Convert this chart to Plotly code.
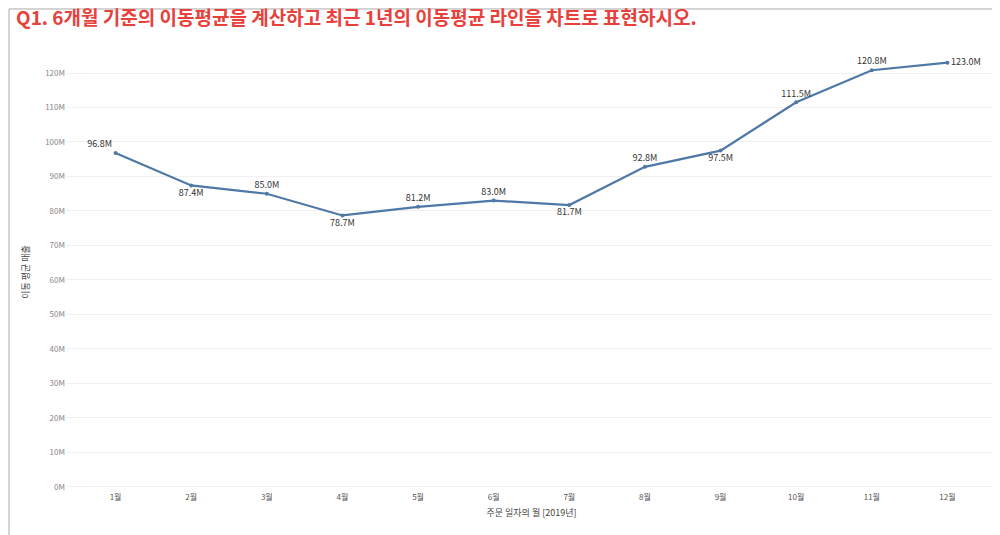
import plotly.graph_objects as go

months = ["1월","2월","3월","4월","5월","6월","7월","8월","9월","10월","11월","12월"]
values = [96.8, 87.4, 85.0, 78.7, 81.2, 83.0, 81.7, 92.8, 97.5, 111.5, 120.8, 123.0]
positions = ["top left","bottom center","top center","bottom center","top center","top center",
             "bottom center","top center","bottom center","top center","top center","middle right"]

font = "Noto Sans CJK KR"
fig = go.Figure(go.Scatter(
    x=months, y=[v*1e6 for v in values], mode="lines+markers+text",
    line=dict(color="#4e79a7", width=2.2), marker=dict(size=4, color="#4e79a7"),
    text=[f"{v:.1f}M" for v in values], textposition=positions,
    textfont=dict(size=9, color="#333"), cliponaxis=False, hoverinfo="skip"))

fig.update_layout(
    width=1000, height=535, paper_bgcolor="white", plot_bgcolor="white",
    font=dict(family=font, color="#666"),
    margin=dict(l=58, r=11, t=45, b=52), showlegend=False,
    title=dict(text="Q1. 6개월 기준의 이동평균을 계산하고 최근 1년의 이동평균 라인을 차트로 표현하시오.",
               x=0.008, y=0.993, xanchor="left", yanchor="top",
               font=dict(size=19, color="#e8413c", family=font, weight="bold")),
    shapes=[dict(type="rect", xref="paper", yref="paper", x0=-0.0612, x1=1.0097, y0=-0.114, y1=1.1005,
                 line=dict(color="#aaa", width=1))],
)
fig.update_xaxes(title=dict(text="주문 일자의 월 [2019년]", font=dict(size=9, color="#444"), standoff=8),
                 tickfont=dict(size=8, color="#555"), showgrid=False, showline=False, ticks="")
fig.update_yaxes(title=dict(text="이동 평균 매출", font=dict(size=9, color="#444"), standoff=14),
                 range=[-1.2e6, 125.8e6], tickvals=[i*10e6 for i in range(13)],
                 ticktext=[f"{i*10}M" for i in range(13)], tickfont=dict(size=8, color="#888"),
                 gridcolor="#f0f0f0", zeroline=False, showline=False)
fig.write_html("out.html")
